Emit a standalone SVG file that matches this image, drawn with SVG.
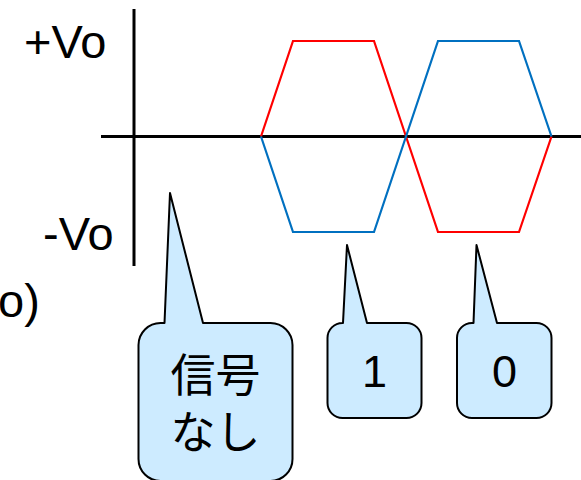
<svg xmlns="http://www.w3.org/2000/svg" width="581" height="480" viewBox="0 0 581 480">
  <style>
    .axis { stroke: #000; stroke-width: 3; fill: none; }
    .wave { stroke-width: 2.2; fill: none; stroke-linejoin: miter; }
    .red { stroke: #FF0000; }
    .blue { stroke: #0070C0; }
    .callout { fill: #CDEBFF; stroke: #000; stroke-width: 2; stroke-linejoin: round; }
    .lbl { font-family: "Liberation Sans", Arial, sans-serif; font-size: 47px; fill: #000; }
    .note { font-family: "Liberation Sans", "Noto Sans CJK JP", sans-serif; font-size: 45px; fill: #000; text-anchor: middle; }
  </style>

  <!-- axes -->
  <g id="axes">
    <line class="axis" x1="134" y1="9" x2="134" y2="266"/>
    <line class="axis" x1="101" y1="136.5" x2="581" y2="136.5"/>
  </g>

  <!-- axis labels -->
  <g id="labels">
    <text class="lbl" x="24" y="58">+Vo</text>
    <text class="lbl" x="43" y="250">-Vo</text>
    <text class="lbl" x="-2" y="317">o)</text>
  </g>

  <!-- waveforms -->
  <g id="waves">
    <polyline class="wave red" points="261,136.5 293,41 374,41 406,136.5 438,232 519,232 551.5,136.5"/>
    <polyline class="wave blue" points="261,136.5 293,232 374,232 406,136.5 438,41 519,41 551.5,136.5"/>
  </g>

  <!-- callouts -->
  <g id="callout-none">
    <path class="callout" d="M138.5,345 A22,22 0 0 1 160.5,323 L164.5,323 L170,193 L203,323 L270.5,323 A22,22 0 0 1 292.5,345 L292.5,459 A22,22 0 0 1 270.5,481 L160.5,481 A22,22 0 0 1 138.5,459 Z"/>
    <text class="note" x="215.5" y="392">信号</text>
    <text class="note" x="215.5" y="449">なし</text>
  </g>
  <g id="callout-one">
    <path class="callout" d="M327.5,338 A15,15 0 0 1 342.5,323 L343,323 L347,245 L367,323 L406.5,323 A15,15 0 0 1 421.5,338 L421.5,403 A15,15 0 0 1 406.5,418 L342.5,418 A15,15 0 0 1 327.5,403 Z"/>
    <text class="note" x="374.5" y="387">1</text>
  </g>
  <g id="callout-zero">
    <path class="callout" d="M457,338 A15,15 0 0 1 472,323 L473.5,323 L476.5,245 L497,323 L536.5,323 A15,15 0 0 1 551.5,338 L551.5,403 A15,15 0 0 1 536.5,418 L472,418 A15,15 0 0 1 457,403 Z"/>
    <text class="note" x="504.5" y="387">0</text>
  </g>
</svg>
